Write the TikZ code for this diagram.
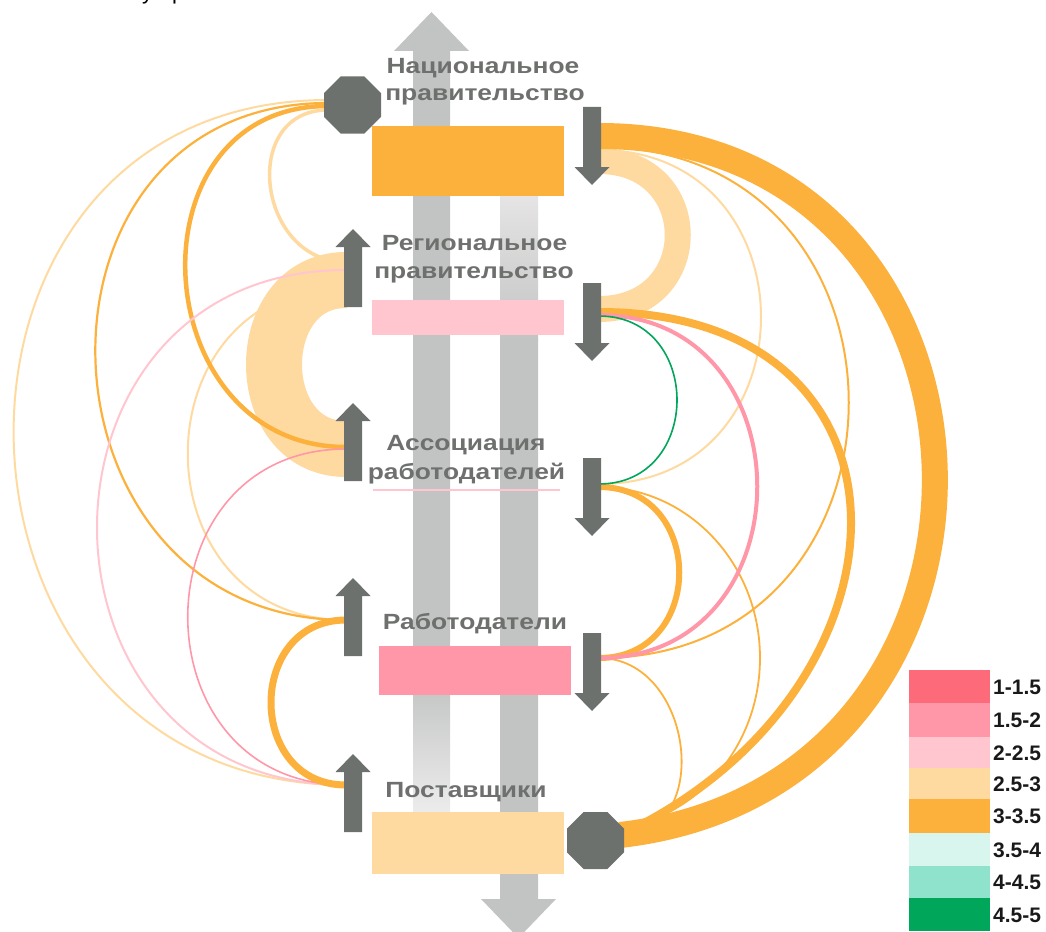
\documentclass[tikz,border=0pt]{standalone}
\usepackage{fontspec}
\setmainfont{Liberation Sans}
\newfontfamily\lblfont{Liberation Sans}[FakeStretch=1.2]
\usetikzlibrary{shapes.geometric,calc}
\definecolor{bigg}{HTML}{C2C4C3}
\definecolor{bigl}{HTML}{ECECEC}
\definecolor{bigt}{HTML}{E6E4E4}
\definecolor{dk}{HTML}{6D716D}
\definecolor{lblc}{HTML}{6E706E}
\definecolor{cA}{HTML}{FD6B7B}
\definecolor{cB}{HTML}{FF97A8}
\definecolor{cC}{HTML}{FFC6CF}
\definecolor{cD}{HTML}{FEDAA0}
\definecolor{cE}{HTML}{FCB13C}
\definecolor{cF}{HTML}{D8F6EE}
\definecolor{cG}{HTML}{8FE3CC}
\definecolor{cH}{HTML}{00A65A}
% link with horizontal tangents at both ends
\newcommand\linkarc[4][]{\draw[#1] (#2) .. controls ($(#2)+(#4,0)$) and ($(#3)+(#4,0)$) .. (#3);}
% link with a free second control offset
\newcommand\linkarcb[6][]{\draw[#1] (#2) .. controls ($(#2)+(#4,0)$) and ($(#3)+(#5,#6)$) .. (#3);}
\begin{document}
\begin{tikzpicture}[x=1pt,y=-1pt,
  box/.style={draw=none,inner sep=0,minimum width=192,anchor=north west},
  lbl/.style={font=\lblfont\bfseries\fontsize{22}{26}\selectfont,text=lblc,inner sep=0,anchor=base},
  leg/.style={font=\bfseries\fontsize{21}{24}\selectfont,text=black!90,inner sep=0,anchor=base west},
  frag/.style={font=\fontsize{22}{26}\selectfont,text=black,inner sep=0,anchor=base west},
  octa/.style={regular polygon,regular polygon sides=8,minimum size=61.7,inner sep=0,fill=dk,draw=none},
  uparr/.pic={\fill[dk] (-9,78) -- (-9,18) -- (-17.5,18) -- (0,0) -- (17.5,18) -- (9,18) -- (9,78) -- cycle;},
  dnarr/.pic={\fill[dk] (-9,0) -- (-9,60) -- (-17.5,60) -- (0,78) -- (17.5,60) -- (9,60) -- (9,0) -- cycle;},
  t15/.style={draw=cB},
  t20/.style={draw=cC},
  t25/.style={draw=cD},
  t30/.style={draw=cE},
  t45/.style={draw=cH}]
\useasboundingbox (0,0) rectangle (1046,931);

% fragments of a cut-off title
\node[frag] (fragA) at (142,-0.5) {у};
\node[frag] (fragB) at (172,-0.5) {р};

% big grey arrows
\fill[bigg] (413,680.5) -- (413,51) -- (394,51) -- (431.5,12) -- (469,51) -- (450,51) -- (450,680.5) -- cycle;
\shade[top color=bigg,bottom color=bigl] (413,680) rectangle (450,812);
\shade[top color=bigt,bottom color=bigg] (500,196) rectangle (538,340);
\fill[bigg] (500,339.5) -- (500,899) -- (481,899) -- (518.5,938) -- (556,899) -- (538,899) -- (538,339.5) -- cycle;

% boxes
\node[box,fill=cE,minimum height=70] (natbox) at (372,126) {};
\node[box,fill=cC,minimum height=35] (regbox) at (372,300) {};
\node[box,fill=cB,minimum height=49] (empbox) at (379,646) {};
\node[box,fill=cD,minimum height=62] (supbox) at (372,812) {};
\coordinate (assulA) at (373,490);
\coordinate (assulB) at (560,490);
\draw[cC,line width=2] (assulA) -- (assulB);

% labels
\node[lbl] (natA) at (483,74) {Национальное};
\node[lbl] (natB) at (485,101) {правительство};
\node[lbl] (regA) at (474.5,250) {Региональное};
\node[lbl] (regB) at (474,278) {правительство};
\node[lbl] (assA) at (466,450) {Ассоциация};
\node[lbl] (assB) at (466.5,479) {работодателей};
\node[lbl] (empA) at (475,629) {Работодатели};
\node[lbl] (supA) at (466,797) {Поставщики};

% connector end points
\coordinate (NatL1) at (328,100);
\coordinate (NatL2) at (328,103);
\coordinate (NatL3) at (328,106);
\coordinate (NatL4) at (328,110);
\coordinate (RegLa) at (346,262);
\coordinate (RegLb) at (346,270);
\coordinate (RegLc) at (346,280);
\coordinate (RegLd) at (346,287);
\coordinate (AssLa) at (346,447);
\coordinate (AssLb) at (346,449);
\coordinate (EmpL) at (346,620);
\coordinate (SupL) at (346,785);
\coordinate (NatRa) at (599,136);
\coordinate (NatRb) at (599,147);
\coordinate (NatRc) at (599,150);
\coordinate (NatRd) at (599,161);
\coordinate (RegRa) at (599,309);
\coordinate (RegRb) at (599,312);
\coordinate (RegRc) at (599,315);
\coordinate (RegRd) at (599,316);
\coordinate (AssRa) at (599,484);
\coordinate (AssRb) at (599,487);
\coordinate (EmpR) at (599,658);
\coordinate (SupRa) at (620,835);
\coordinate (SupRb) at (620,836);

% left links
\linkarc[t25,line width=2]{RegLd}{EmpL}{-211}
\linkarc[t25,line width=3.5]{NatL4}{RegLa}{-89}
\linkarc[t25,line width=56]{RegLc}{AssLb}{-96}
\linkarc[t25,line width=2]{NatL1}{SupL}{-431}
\linkarc[t30,line width=2.2]{NatL2}{EmpL}{-322}
\linkarc[t30,line width=4.5]{NatL3}{AssLa}{-202}
\linkarc[t20,line width=2]{RegLb}{SupL}{-332}
\linkarc[t15,line width=1.6]{AssLb}{SupL}{-211}
\linkarc[t30,line width=7]{EmpL}{SupL}{-100}

% right links
\linkarc[t25,line width=2]{NatRc}{AssRa}{216}
\linkarc[t30,line width=2]{NatRb}{EmpR}{333}
\linkarc[t25,line width=26]{NatRd}{RegRa}{105}
\draw[t30,line width=1.8] (AssRb) arc[start angle=90,end angle=-90,x radius=161pt,y radius=171pt];
\linkarc[t30,line width=1.8]{EmpR}{SupRb}{95}
\linkarcb[t30,line width=26]{NatRa}{SupRa}{432}{435}{-50}
\linkarcb[t30,line width=8]{RegRb}{SupRa}{338}{306}{-143}
\linkarc[t30,line width=6]{AssRb}{EmpR}{107}
\linkarc[t15,line width=4]{RegRc}{EmpR}{211}
\linkarc[t45,line width=1.6]{RegRd}{AssRa}{104}

% small dark arrows
\pic (upReg) at (353,229) {uparr};
\pic (upAss) at (353,403) {uparr};
\pic (upEmp) at (353,578) {uparr};
\pic (upSup) at (353,754) {uparr};
\pic (dnNat) at (592,107) {dnarr};
\pic (dnReg) at (592,283) {dnarr};
\pic (dnAss) at (592,458) {dnarr};
\pic (dnEmp) at (592,633) {dnarr};

% octagons
\node[octa] (octT) at (352.5,105) {};
\node[octa] (octB) at (595.5,840.5) {};

% legend
\foreach \c/\a/\b/\t [count=\i] in {cA/670/703/1-1.5, cB/703/737/1.5-2, cC/737/768/2-2.5, cD/768/799/2.5-3, cE/799/833/3-3.5, cF/833/866/3.5-4, cG/866/898/4-4.5, cH/898/931/4.5-5}{
  \fill[\c] (909,\a) rectangle (990,\b);
  \node[leg] (leg\i) at (993,{(\a+\b)/2+7.5}) {\t};
}
\end{tikzpicture}
\end{document}
